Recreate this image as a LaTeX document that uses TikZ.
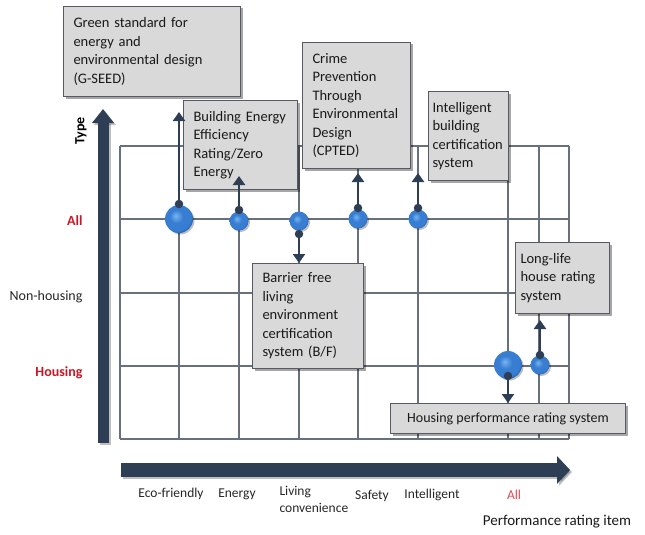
\documentclass[tikz,border=0pt]{standalone}
\usepackage{fontspec}
\setmainfont{Carlito}
\usetikzlibrary{shadows,arrows.meta}
\definecolor{navy}{RGB}{46,62,84}
\definecolor{gridgray}{RGB}{105,112,125}
\definecolor{boxfill}{RGB}{217,217,217}
\definecolor{boxline}{RGB}{85,90,100}
\definecolor{txtred}{RGB}{200,24,40}
\definecolor{lightred}{RGB}{225,70,80}
\definecolor{bhi}{RGB}{120,180,240}
\definecolor{bmid}{RGB}{55,125,210}
\definecolor{bdark}{RGB}{25,80,160}
\pgfdeclareradialshading{blueball}{\pgfpoint{-6bp}{6bp}}{color(0bp)=(bhi); color(12bp)=(bmid); color(24bp)=(bmid); color(30bp)=(bdark); color(50bp)=(bdark)}
\begin{document}
\begin{tikzpicture}[x=1pt,y=-1pt,
  gridline/.style={draw=gridgray, line width=1.4pt},
  infobox/.style={draw=boxline, fill=boxfill, line width=1pt, anchor=north west,
    drop shadow={shadow xshift=2pt, shadow yshift=-2pt, opacity=0.35, fill=black},
    font=\fontsize{14.5}{18.5}\selectfont, align=left, inner ysep=0pt, text=black!90},
  ball/.style={circle, shading=blueball, inner sep=0pt,
    drop shadow={shadow xshift=1.5pt, shadow yshift=-1.5pt, opacity=0.25, fill=black}},
  bigball/.style={ball, minimum size=28pt},
  smallball/.style={ball, minimum size=19pt},
  dot/.style={circle, fill=navy, inner sep=0pt, minimum size=8.5pt},
  conn/.style={draw=navy, line width=2.3pt, -{Triangle[width=12pt,length=9pt]}},
  axislbl/.style={font=\fontsize{13.5}{15}\selectfont, text=black!85},
  sidelbl/.style={font=\fontsize{14}{16}\selectfont, anchor=east},
]
\useasboundingbox (0,0) rectangle (645,535);

% grid
\foreach \yy in {146,219,293,366,439} \draw[gridline] (120,\yy) -- (569,\yy);
\foreach \xx in {120,179,239,299,358,418,508,539,569} \draw[gridline] (\xx,146) -- (\xx,439);

% axes
\coordinate (vbot) at (103,443);
\coordinate (vtop) at (103,109);
\coordinate (hbeg) at (121,470);
\coordinate (hend) at (570,470);
\draw[black, opacity=0.25, line width=11pt, -{Triangle[width=21pt,length=14pt]}] ([xshift=2pt,yshift=-2pt]vbot) -- ([xshift=2pt,yshift=-2pt]vtop);
\draw[navy, line width=11pt, -{Triangle[width=21pt,length=14pt]}] (vbot) -- (vtop);
\draw[black, opacity=0.25, line width=14pt, -{Triangle[width=27pt,length=13pt]}] ([xshift=2pt,yshift=-2pt]hbeg) -- ([xshift=2pt,yshift=-2pt]hend);
\draw[navy, line width=14pt, -{Triangle[width=27pt,length=13pt]}] (hbeg) -- (hend);

% boxes
\node[infobox, minimum width=177pt, minimum height=90pt, inner xsep=10pt, text width=157pt] (gseed) at (63,6)
  {Green standard for\\energy and\\environmental design\\(G-SEED)};
\node[infobox, minimum width=114pt, minimum height=89pt, inner xsep=10pt, text width=94pt] (bee) at (183,100)
  {Building Energy\\Efficiency\\Rating/Zero\\Energy};
\node[infobox, minimum width=108pt, minimum height=126pt, inner xsep=10pt, text width=88pt] (cpted) at (302,42)
  {Crime\\Prevention\\Through\\Environmental\\Design\\(CPTED)};
\node[infobox, minimum width=80pt, minimum height=89pt, inner xsep=4pt, text width=72pt] (ibc) at (428,91)
  {Intelligent\\building\\certification\\system};
\node[infobox, minimum width=111pt, minimum height=105pt, inner xsep=10pt, text width=91pt] (bf) at (252,263)
  {Barrier free\\living\\environment\\certification\\system (B/F)};
\node[infobox, minimum width=94pt, minimum height=71pt, inner xsep=5pt, text width=84pt] (llh) at (515,242)
  {Long-life\\house rating\\system};
\node[infobox, minimum width=235pt, minimum height=30pt, inner xsep=6pt, align=center, font=\fontsize{14}{17}\selectfont] (hprs) at (390,403)
  {Housing performance rating system};

% balls
\node[bigball] (b1) at (179,219) {};
\node[smallball] (b2) at (239,221) {};
\node[smallball] (b3) at (299,221) {};
\node[smallball] (b4) at (358,219) {};
\node[smallball] (b5) at (418,219) {};
\node[bigball] (b6) at (508,365) {};
\node[smallball] (b7) at (540,365) {};

% dots
\node[dot] (d1) at (179,204) {};
\node[dot] (d2) at (239,210) {};
\node[dot] (d3) at (299,234) {};
\node[dot] (d4) at (358,208) {};
\node[dot] (d5) at (418,208) {};
\node[dot] (d6) at (508,376) {};
\node[dot] (d7) at (540,355) {};

% arrow tips
\coordinate (t1) at (179,112);
\coordinate (t2) at (239,176);
\coordinate (t3) at (299,263);
\coordinate (t4) at (358,173);
\coordinate (t5) at (418,173);
\coordinate (t6) at (508,403);
\coordinate (t7) at (540,320);

\foreach \i in {1,...,7} \draw[conn] (d\i.center) -- (t\i);

% side labels
\node[font=\bfseries\fontsize{14}{16}\selectfont, rotate=90] (ltype) at (81,131) {Type};
\node[sidelbl, font=\bfseries\fontsize{14}{16}\selectfont, text=txtred] (lall) at (86,221) {All};
\node[sidelbl, text=black!85] (lnon) at (86,297) {Non-housing};
\node[sidelbl, font=\bfseries\fontsize{14}{16}\selectfont, text=txtred] (lhou) at (86,373) {Housing};

% bottom labels
\node[axislbl] (xeco) at (171,494) {Eco-friendly};
\node[axislbl] (xene) at (237,494) {Energy};
\node[axislbl, align=left, anchor=west, font=\fontsize{13.5}{17}\selectfont] (xliv) at (276,499) {Living\\convenience};
\node[axislbl] (xsaf) at (372,496) {Safety};
\node[axislbl] (xint) at (432,495) {Intelligent};
\node[axislbl, text=lightred] (xall) at (514,495) {All};
\node[font=\fontsize{15}{17}\selectfont, text=black!90] (xtitle) at (557,522) {Performance rating item};
\end{tikzpicture}
\end{document}
